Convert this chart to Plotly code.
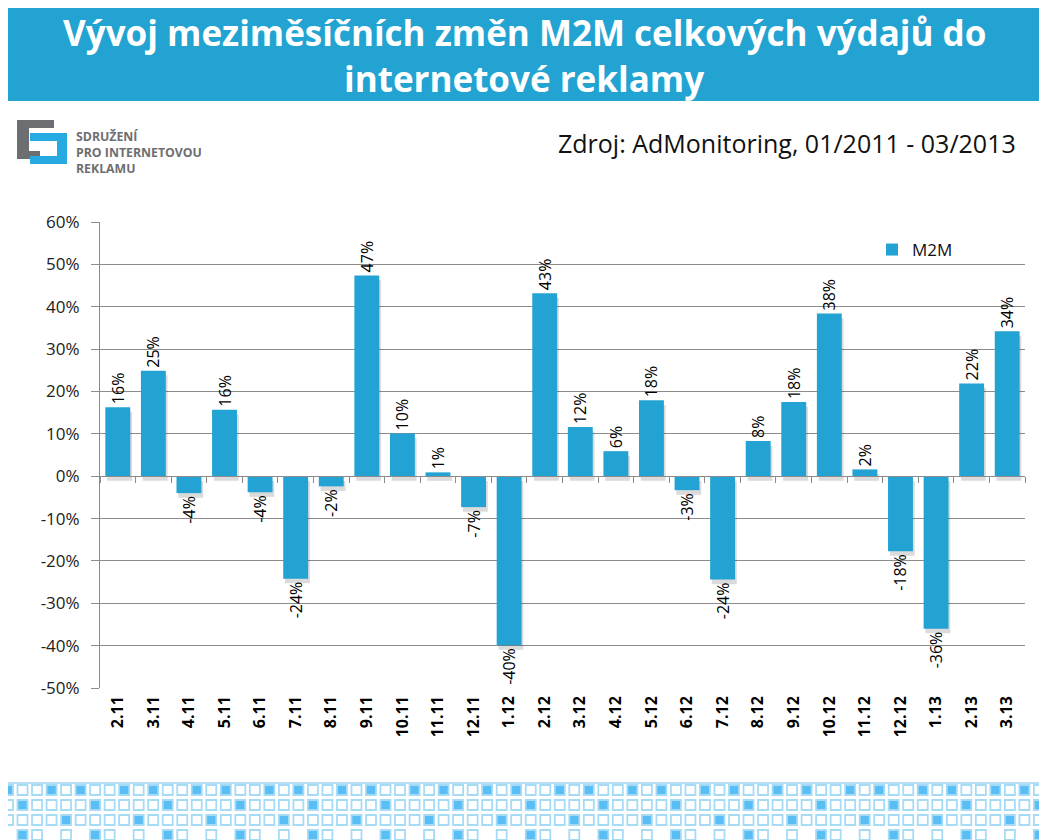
import plotly.graph_objects as go

# ---------------- data ----------------
categories = ["2.11", "3.11", "4.11", "5.11", "6.11", "7.11", "8.11", "9.11", "10.11", "11.11",
              "12.11", "1.12", "2.12", "3.12", "4.12", "5.12", "6.12", "7.12", "8.12", "9.12",
              "10.12", "11.12", "12.12", "1.13", "2.13", "3.13"]
m2m_values = [0.163, 0.249, -0.040, 0.157, -0.038, -0.242, -0.024, 0.474, 0.101, 0.009,
              -0.073, -0.399, 0.432, 0.116, 0.059, 0.179, -0.033, -0.244, 0.083, 0.175,
              0.384, 0.016, -0.177, -0.360, 0.219, 0.342]
y_tick_vals = [-0.5, -0.4, -0.3, -0.2, -0.1, 0.0, 0.1, 0.2, 0.3, 0.4, 0.5, 0.6]
y_tick_text = ["-50%", "-40%", "-30%", "-20%", "-10%", "0%", "10%", "20%", "30%", "40%", "50%", "60%"]
series_name = "M2M"
title_lines = ["Vývoj meziměsíčních změn M2M celkových výdajů do", "internetové reklamy"]
source_text = "Zdroj: AdMonitoring, 01/2011 - 03/2013"
logo_lines = ["SDRUŽENÍ", "PRO INTERNETOVOU", "REKLAMU"]

# ---------------- layout geometry ----------------
OFF = 8                      # page body margin of the host page
W, H = 1047 - OFF, 840 - OFF
ML, MT = 100 - OFF, 222 - OFF
PW, PH = 925, 466
MR, MB = W - ML - PW, H - MT - PH
Y_MIN, Y_MAX = -0.5, 0.6


def px(x):
    """window x pixel -> paper coordinate"""
    return (x - OFF - ML) / PW


def py(y):
    """window y pixel -> paper coordinate"""
    return (MT + PH - (y - OFF)) / PH


BAR_COLOR = "#22A3D3"
GRID = "#8C8C8C"
FONT = "Open Sans"

fig = go.Figure()

# soft shadow behind the bars
fig.add_trace(go.Bar(
    x=categories, y=m2m_values, base=-0.011, offset=-0.30, width=0.70,
    marker=dict(color="rgba(0,0,0,0.14)", line=dict(width=0)),
    showlegend=False, hoverinfo="skip",
))

fig.add_trace(go.Bar(
    x=categories, y=m2m_values, name=series_name,
    marker=dict(color=BAR_COLOR, line=dict(width=0)),
    offset=-0.35, width=0.70,
    texttemplate="%{y:.0%}", textposition="outside", textangle=-90,
    textfont=dict(family=FONT, size=16, color="#000"),
    constraintext="none", cliponaxis=False,
))

# invisible trace to drive the bottom label axis
fig.add_trace(go.Scatter(
    x=categories, y=[0] * len(categories), xaxis="x2", mode="markers",
    marker=dict(opacity=0), showlegend=False, hoverinfo="skip",
))

shapes = []
# header band
shapes.append(dict(type="rect", xref="paper", yref="paper", x0=px(0), x1=px(1047), y0=py(101), y1=py(0),
                   fillcolor="#22A3D2", line=dict(width=0), layer="below"))

# logo blocks
gray, blue = "#6D6E71", "#27A9E1"
for (x0, y0, x1, y1, c) in [
    (17, 120, 54, 128, gray), (17, 120, 29, 159, gray), (17, 151, 40, 159, gray),
    (30, 133, 67, 141, blue), (57, 133, 67, 164, blue), (30, 156, 67, 164, blue),
]:
    shapes.append(dict(type="rect", xref="paper", yref="paper", x0=px(x0), x1=px(x1), y0=py(y1), y1=py(y0),
                       fillcolor=c, line=dict(width=0)))

# bottom decorative pattern
shapes.append(dict(type="line", xref="paper", yref="paper", x0=px(0), x1=px(1047), y0=py(783), y1=py(783),
                   line=dict(color="#9FD3F0", width=1.5)))
row_y = [790, 805, 820, 835]
row_filled = [{0, 3}, {1}, {4}, {1}]
row_blank = [set(), set(), set(), {0, 3}]
for r, yc in enumerate(row_y):
    for i in range(72):
        m = i % 5
        if m in row_blank[r]:
            continue
        xc = 8 + 14.52 * i
        filled = m in row_filled[r]
        shapes.append(dict(type="rect", xref="paper", yref="paper",
                           x0=px(xc - 5), x1=px(xc + 5), y0=py(yc + 5), y1=py(yc - 5),
                           fillcolor="#58BEF5" if filled else "rgba(255,255,255,0)",
                           line=dict(color="#A6DBF6", width=1.8)))

annotations = []
for k, t in enumerate(title_lines):
    annotations.append(dict(text=f"<b>{t}</b>", xref="paper", yref="paper", x=px(524), y=py([33, 78][k]),
                            xanchor="center", yanchor="middle", showarrow=False,
                            font=dict(family=FONT, size=35, color="white")))
annotations.append(dict(text=source_text, xref="paper", yref="paper", x=px(1018), y=py(143),
                        xanchor="right", yanchor="middle", showarrow=False,
                        font=dict(family=FONT, size=25, color="#111")))
annotations.append(dict(text="<b>" + "<br>".join(logo_lines) + "</b>", xref="paper", yref="paper",
                        x=px(74), y=py(152), xanchor="left", yanchor="middle", align="left",
                        showarrow=False, font=dict(family=FONT, size=12.3, color="#6D6E71")))

fig.update_layout(
    width=W, height=H,
    margin=dict(l=ML, r=MR, t=MT, b=MB, autoexpand=False),
    paper_bgcolor="white", plot_bgcolor="white",
    barmode="overlay",
    font=dict(family=FONT, color="#222"),
    shapes=shapes, annotations=annotations,
    legend=dict(x=px(872), y=py(232), xanchor="left", yanchor="top",
                font=dict(family=FONT, size=17, color="#111"), itemwidth=30,
                bgcolor="rgba(0,0,0,0)", traceorder="normal"),
    xaxis=dict(type="category", anchor="free", position=(0 - Y_MIN) / (Y_MAX - Y_MIN),
               range=[-0.5, len(categories) - 0.5], autorange=False,
               showline=True, linecolor=GRID, linewidth=1,
               ticks="outside", tickson="boundaries", ticklen=6, tickcolor=GRID,
               showticklabels=False, showgrid=False, zeroline=False),
    xaxis2=dict(type="category", overlaying="x", matches="x", anchor="y", side="bottom",
                showline=False, ticks="", showgrid=False, zeroline=False,
                tickangle=-90, ticklabelstandoff=4,
                tickfont=dict(family=FONT, size=16, color="#000", weight="bold")),
    yaxis=dict(range=[Y_MIN, Y_MAX], tickvals=y_tick_vals, ticktext=y_tick_text,
               showgrid=True, gridcolor=GRID, gridwidth=1, zeroline=False,
               showline=True, linecolor=GRID, ticks="outside", ticklen=8, tickcolor=GRID,
               ticklabelstandoff=8,
               tickfont=dict(family=FONT, size=17, color="#222")),
)

fig.write_html("out.html")
